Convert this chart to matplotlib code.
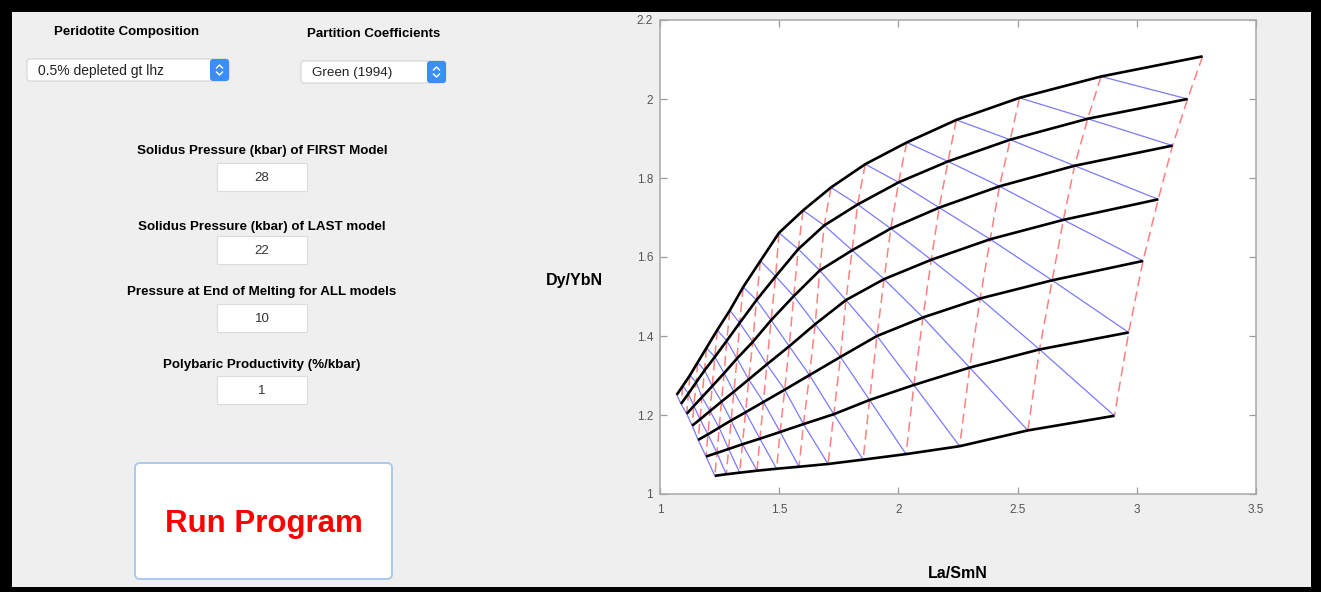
import matplotlib
matplotlib.use("Agg")
import matplotlib.pyplot as plt
from matplotlib.patches import Rectangle, FancyBboxPatch

W, H, DPI = 1321, 592, 100
FONT = ["Liberation Sans", "DejaVu Sans"]

# Melting grid: one path per solidus pressure (kbar); one point per kbar of
# decompression (F = 1, 2, ... % melt) down to the end-of-melting pressure.
solidus_kbar = [28, 27, 26, 25, 24, 23, 22]
end_kbar = 10

lasm_28 = [3.276, 2.850, 2.508, 2.243, 2.035, 1.861, 1.717, 1.600, 1.499, 1.421,
           1.349, 1.293, 1.240, 1.195, 1.158, 1.125, 1.096, 1.070]
dyyb_28 = [2.108, 2.057, 2.003, 1.947, 1.890, 1.835, 1.776, 1.718, 1.661, 1.590,
           1.524, 1.465, 1.415, 1.370, 1.333, 1.300, 1.274, 1.251]

lasm_27 = [3.213, 2.794, 2.469, 2.208, 2.001, 1.829, 1.689, 1.580, 1.485, 1.405,
           1.334, 1.280, 1.230, 1.187, 1.152, 1.119, 1.088]
dyyb_27 = [2.000, 1.950, 1.897, 1.842, 1.789, 1.733, 1.680, 1.620, 1.551, 1.491,
           1.433, 1.388, 1.347, 1.313, 1.283, 1.254, 1.228]

lasm_26 = [3.150, 2.739, 2.424, 2.171, 1.968, 1.806, 1.670, 1.561, 1.466, 1.389,
           1.323, 1.269, 1.219, 1.176, 1.142, 1.112]
dyyb_26 = [1.882, 1.831, 1.779, 1.725, 1.672, 1.617, 1.566, 1.501, 1.440, 1.385,
           1.343, 1.306, 1.273, 1.245, 1.223, 1.203]

lasm_25 = [3.090, 2.692, 2.385, 2.138, 1.940, 1.780, 1.651, 1.542, 1.448, 1.372,
           1.310, 1.258, 1.210, 1.168, 1.135]
dyyb_25 = [1.746, 1.694, 1.645, 1.593, 1.544, 1.491, 1.430, 1.374, 1.328, 1.290,
           1.259, 1.234, 1.210, 1.189, 1.173]

lasm_24 = [3.026, 2.645, 2.343, 2.103, 1.910, 1.757, 1.627, 1.523, 1.434, 1.359,
           1.298, 1.248, 1.201, 1.160]
dyyb_24 = [1.590, 1.541, 1.495, 1.447, 1.400, 1.347, 1.301, 1.264, 1.233, 1.207,
           1.186, 1.168, 1.151, 1.137]

lasm_23 = [2.966, 2.592, 2.299, 2.065, 1.879, 1.729, 1.602, 1.504, 1.419, 1.346,
           1.288, 1.239, 1.193]
dyyb_23 = [1.409, 1.366, 1.320, 1.276, 1.238, 1.202, 1.177, 1.157, 1.140, 1.126,
           1.114, 1.104, 1.095]

lasm_22 = [2.906, 2.543, 2.257, 2.032, 1.852, 1.705, 1.583, 1.489, 1.407, 1.334,
           1.278, 1.230]
dyyb_22 = [1.198, 1.161, 1.121, 1.101, 1.087, 1.076, 1.069, 1.064, 1.059, 1.054,
           1.050, 1.046]

x_ticks = [1, 1.5, 2, 2.5, 3, 3.5]
x_tick_labels = ["1", "1.5", "2", "2.5", "3", "3.5"]
y_ticks = [1, 1.2, 1.4, 1.6, 1.8, 2, 2.2]
y_tick_labels = ["1", "1.2", "1.4", "1.6", "1.8", "2", "2.2"]

composition_choice = "0.5% depleted gt lhz"
kd_choice = "Green (1994)"
input_labels = ["Solidus Pressure (kbar) of FIRST Model",
                "Solidus Pressure (kbar) of LAST model",
                "Pressure at End of Melting for ALL models",
                "Polybaric Productivity (%/kbar)"]
input_values = ["28", "22", "10", "1"]

lasm = [lasm_28, lasm_27, lasm_26, lasm_25, lasm_24, lasm_23, lasm_22]
dyyb = [dyyb_28, dyyb_27, dyyb_26, dyyb_25, dyyb_24, dyyb_23, dyyb_22]

fig = plt.figure(figsize=(W / DPI, H / DPI), dpi=DPI)
fig.patch.set_facecolor("black")

# ---- control panel (pixel coordinates) ----
ui = fig.add_axes([0, 0, 1, 1], zorder=0)
ui.set_xlim(0, W)
ui.set_ylim(H, 0)
ui.axis("off")
ui.add_patch(Rectangle((12, 12), 1311 - 12, 587 - 12, fc="#efefef", ec="none"))


def text(x, y, s, size=9.5, weight="bold", color="black", ha="center"):
    ui.text(x, y, s, fontsize=size, fontweight=weight, color=color,
            ha=ha, va="center", family=FONT)


def popup(x0, x1, y0, y1, s, size):
    ui.add_patch(FancyBboxPatch((x0, y0), x1 - x0, y1 - y0,
                                boxstyle="round,pad=0,rounding_size=3",
                                fc="white", ec="#d4d4d4", lw=0.8))
    ui.add_patch(FancyBboxPatch((x1 - 19, y0), 19, y1 - y0,
                                boxstyle="round,pad=0,rounding_size=3",
                                fc="#3b8ef5", ec="none"))
    cx, cy = x1 - 9.5, (y0 + y1) / 2
    ui.plot([cx - 3, cx, cx + 3], [cy - 2, cy - 5, cy - 2], color="white", lw=1.0)
    ui.plot([cx - 3, cx, cx + 3], [cy + 2, cy + 5, cy + 2], color="white", lw=1.0)
    text(x0 + 11, cy + 1, s, size=size, weight="normal", color="#222222", ha="left")


text(127, 32, "Peridotite Composition")
text(374, 34, "Partition Coefficients")
popup(27, 229, 59, 81, composition_choice, 10)
popup(301, 446, 61, 83, kd_choice, 9.7)

label_y = [151, 227, 292, 365]
box_y = [163, 236, 304, 376]
for lab, val, ly, by in zip(input_labels, input_values, label_y, box_y):
    text(262, ly, lab, size=9.6)
    ui.add_patch(Rectangle((217, by), 90, 28, fc="white", ec="#dcdcdc", lw=0.8))
    text(262, by + 15, val, size=9.5, weight="normal", color="#333333")

ui.add_patch(FancyBboxPatch((135, 463), 257, 116,
                            boxstyle="round,pad=0,rounding_size=5",
                            fc="white", ec="#a9c9ef", lw=1.4))
text(264, 524, "Run Program", size=22.5, color="#ff0000")

# ---- La/Sm vs Dy/Yb melting grid ----
ax = fig.add_axes([660 / W, 1 - 494 / H, (1256 - 660) / W, (494 - 20) / H], zorder=1)
ax.set_xlim(1, 3.5)
ax.set_ylim(1, 2.2)
ax.set_facecolor("white")

# lines of equal melt fraction
n_f = max(len(c) for c in lasm)
for f in range(n_f):
    xs = [c[f] for c in lasm if len(c) > f]
    ys = [c[f] for c in dyyb if len(c) > f]
    if len(xs) > 1:
        ax.plot(xs, ys, color="#ff8080", lw=1.1, dashes=(6.5, 3.5), zorder=2)

# lines of equal pressure
for p in range(end_kbar, max(solidus_kbar)):
    xs, ys = [], []
    for i, p0 in enumerate(solidus_kbar):
        if p0 > p:
            xs.append(lasm[i][p0 - p - 1])
            ys.append(dyyb[i][p0 - p - 1])
    if len(xs) > 1:
        ax.plot(xs, ys, color="#7a7aff", lw=0.9, zorder=2)

# melting paths
for xs, ys in zip(lasm, dyyb):
    ax.plot(xs, ys, color="black", lw=1.9, zorder=3, solid_capstyle="butt")

ax.set_xticks(x_ticks)
ax.set_xticklabels(x_tick_labels)
ax.set_yticks(y_ticks)
ax.set_yticklabels(y_tick_labels)
ax.tick_params(direction="in", top=True, right=True, length=5, width=0.9,
               color="#9a9a9a", labelcolor="#555555", labelsize=8.5)
ax.tick_params(axis="x", pad=7)
ax.tick_params(axis="y", pad=5)
for lab in ax.get_xticklabels() + ax.get_yticklabels():
    lab.set_family(FONT)
for sp in ax.spines.values():
    sp.set_color("#a8a8a8")
    sp.set_linewidth(1.1)

text(574, 281, "Dy/YbN", size=11.5)
text(958, 574, "La/SmN", size=11.5)

fig.savefig("out.png", dpi=DPI, facecolor=fig.get_facecolor())
